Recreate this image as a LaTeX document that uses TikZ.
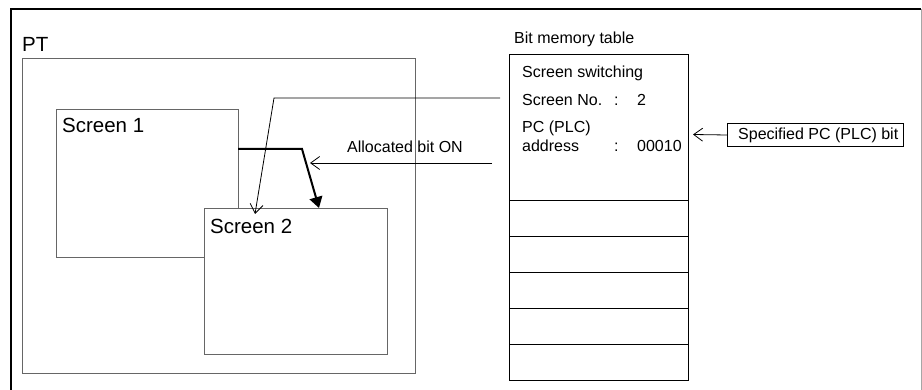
\documentclass[tikz,border=0pt]{standalone}
\usepackage{fontspec}
\setmainfont{Liberation Sans}
\usetikzlibrary{arrows.meta,calc}
\begin{document}
\begin{tikzpicture}[x=1pt,y=-1pt,
  frame/.style={draw=black!60, line width=1pt, inner sep=0pt, anchor=north west},
  cell/.style={draw=black, line width=1pt, minimum width=179pt, minimum height=36pt, inner sep=0pt, anchor=north west},
  big/.style={font=\fontsize{20.5}{24}\selectfont, inner sep=0pt, anchor=base west},
  small/.style={font=\fontsize{16}{19}\selectfont, inner sep=0pt, anchor=base west},
  thinarrow/.style={line width=0.8pt, -{Straight Barb[length=9pt,width=13pt]}},
  thickarrow/.style={line width=2pt, -{Triangle[length=11pt,width=13pt]}},
]
\useasboundingbox (0,0) rectangle (922,390);
% outer frame
\draw[line width=2pt] (11,390) -- (11,9) -- (921,9);
\draw[black!35, line width=1pt] (921,9) -- (921,390);

% PT
\node[big] (ptlabel) at (22,52) {PT};
\node[frame, minimum width=393pt, minimum height=315pt] (pt) at (22,58) {};

% Screens
\node[frame, minimum width=182pt, minimum height=148pt] (s1) at (56,109) {};
\node[big] (s1label) at (62,133) {Screen 1};
\node[frame, fill=white, minimum width=183pt, minimum height=146pt] (s2) at (204,208) {};
\node[big] (s2label) at (210,234) {Screen 2};

% Bit memory table
\node[small] (bmt) at (514,44) {Bit memory table};
\node[cell, minimum height=146pt] (t0) at (509,54) {};
\node[cell] (t1) at (509,200) {};
\node[cell] (t2) at (509,236) {};
\node[cell] (t3) at (509,272) {};
\node[cell] (t4) at (509,308) {};
\node[cell] (t5) at (509,344) {};

\node[small] (l1) at (522,78) {Screen switching};
\node[small] (l2) at (522,106) {Screen No.};
\node[small] (l2c) at (614,106) {:};
\node[small] (l2v) at (637,106) {2};
\node[small] (l3) at (522,133) {PC (PLC)};
\node[small] (l4) at (522,152) {address};
\node[small] (l4c) at (614,152) {:};
\node[small] (l4v) at (637,152) {00010};

% Specified bit box
\node[draw=black, line width=1pt, minimum width=176pt, minimum height=23pt, inner sep=0pt, anchor=north west] (spec) at (727,123) {};
\node[small] (spectext) at (738,140) {Specified PC (PLC) bit};
\coordinate (specin) at (693,134.5);
\draw[thinarrow] (spec.west) -- (specin);

% Allocated bit ON
\node[small] (alloc) at (347,153) {Allocated bit ON};
\coordinate (allocstart) at (492,163);
\coordinate (allocend) at (310,163);
\draw[thinarrow] (allocstart) -- (allocend);

% thick arrow from Screen 1 to Screen 2
\coordinate (s1out) at (238,149);
\coordinate (bend) at (302,149);
\coordinate (s2in) at (319,208);
\draw[thickarrow] (s1out) -- (bend) -- (s2in);

% screen switching line
\coordinate (swstart) at (500,98);
\coordinate (swbend) at (274,98);
\coordinate (swend) at (255,214);
\draw[thinarrow] (swstart) -- (swbend) -- (swend);
\end{tikzpicture}
\end{document}
